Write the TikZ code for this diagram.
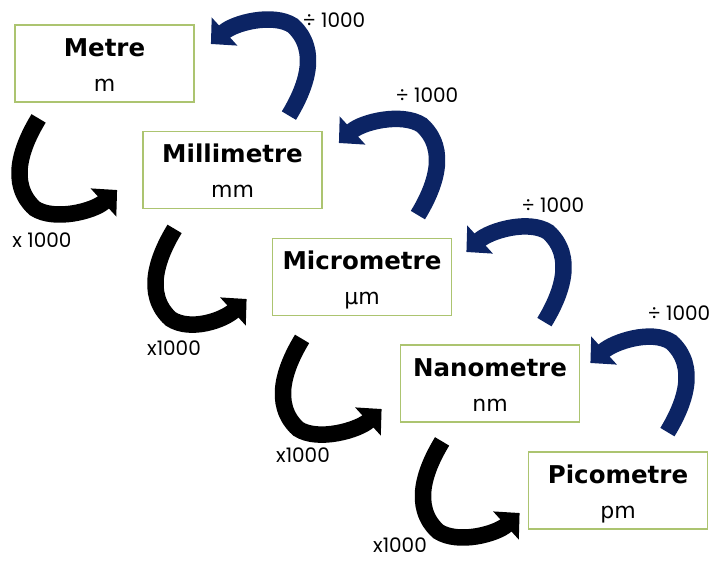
\documentclass[tikz,border=0pt]{standalone}
\usepackage{fontspec}
\setmainfont{DejaVu Sans}
\newfontfamily\labelfont{Poppins}
\usetikzlibrary{arrows.meta,calc}
\definecolor{boxgreen}{RGB}{172,196,112}
\definecolor{navy}{RGB}{12,36,100}

\begin{document}
\begin{tikzpicture}[x=1pt,y=-1pt,
  unitbox/.style={draw=boxgreen,line width=1.8pt,fill=white,
    minimum width=179pt,minimum height=77pt,inner sep=0pt},
  unitname/.style={anchor=base,inner sep=0pt,
    font=\bfseries\fontsize{24.5}{28}\selectfont},
  unitsym/.style={anchor=base,inner sep=0pt,
    font=\fontsize{22}{26}\selectfont},
  steplabel/.style={inner sep=0pt,font=\labelfont\fontsize{20}{22}\selectfont},
  bandarrow/.style={line width=16.5pt,line cap=butt,
    -{Triangle[width=37pt,length=18.5pt]}},
  downarrow/.style={bandarrow,draw=black},
  uparrow/.style={bandarrow,draw=navy},
]
\useasboundingbox (0,0) rectangle (711,560);

% unit boxes
\node[unitbox] (metre) at (104.5,63.5) {};
\node[unitbox] (mm)    at (232.5,170)  {};
\node[unitbox] (micro) at (362,277)    {};
\node[unitbox] (nano)  at (490,383.5)  {};
\node[unitbox] (pico)  at (618,490.5)  {};

% names and symbols
\node[unitname] (metreN) at ($(metre.north)+(0,32)$) {Metre};
\node[unitsym]  (metreS) at ($(metre.north)+(0,67)$) {m};
\node[unitname] (mmN)    at ($(mm.north)+(0,32)$)    {Millimetre};
\node[unitsym]  (mmS)    at ($(mm.north)+(0,67)$)    {mm};
\node[unitname] (microN) at ($(micro.north)+(0,32)$) {Micrometre};
\node[unitsym]  (microS) at ($(micro.north)+(0,67)$) {µm};
\node[unitname] (nanoN)  at ($(nano.north)+(0,32)$)  {Nanometre};
\node[unitsym]  (nanoS)  at ($(nano.north)+(0,67)$)  {nm};
\node[unitname] (picoN)  at ($(pico.north)+(0,32)$)  {Picometre};
\node[unitsym]  (picoS)  at ($(pico.north)+(0,67)$)  {pm};

% multiply: curved black arrows down the left side
\draw[downarrow] ($(metre.south west)+(24.5,15.5)$)
  .. controls +(-17,28) and +(-27,-25) .. ++(-4,90)
  .. controls +(20,13) and +(-23,21) .. ($(mm.west)+(-25,20)$);
\draw[downarrow] ($(mm.south west)+(32.5,19.5)$)
  .. controls +(-17,28) and +(-27,-25) .. ++(-4,90)
  .. controls +(20,13) and +(-23,21) .. ($(micro.west)+(-25,22)$);
\draw[downarrow] ($(micro.south west)+(30.5,22.5)$)
  .. controls +(-17,28) and +(-27,-25) .. ++(-4,90)
  .. controls +(20,13) and +(-23,21) .. ($(nano.west)+(-18,25.5)$);
\draw[downarrow] ($(nano.south west)+(42.5,18.5)$)
  .. controls +(-17,28) and +(-27,-25) .. ++(-4,90)
  .. controls +(20,13) and +(-23,21) .. ($(pico.west)+(-8,22.5)$);

% divide: curved navy arrows up the right side
\draw[uparrow] ($(mm.north east)+(-34,-15)$)
  .. controls +(17,-28) and +(27,25) .. ++(4,-90)
  .. controls +(-20,-13) and +(23,-21) .. ($(metre.east)+(16,-19.5)$);
\draw[uparrow] ($(micro.north east)+(-34.5,-22.5)$)
  .. controls +(17,-28) and +(27,25) .. ++(4,-90)
  .. controls +(-20,-13) and +(23,-21) .. ($(mm.east)+(16,-27)$);
\draw[uparrow] ($(nano.north east)+(-36,-22)$)
  .. controls +(17,-28) and +(27,25) .. ++(4,-90)
  .. controls +(-20,-13) and +(23,-21) .. ($(micro.east)+(14,-25)$);
\draw[uparrow] ($(pico.north east)+(-41,-19)$)
  .. controls +(17,-28) and +(27,25) .. ++(4,-90)
  .. controls +(-20,-13) and +(23,-21) .. ($(nano.east)+(10,-20.5)$);

% step labels
\node[steplabel] (div1) at (334,20)  {÷ 1000};
\node[steplabel] (div2) at (427,95)  {÷ 1000};
\node[steplabel] (div3) at (553,205) {÷ 1000};
\node[steplabel] (div4) at (679,313) {÷ 1000};
\node[steplabel] (mul1) at (42,240)  {x 1000};
\node[steplabel] (mul2) at (174,348) {x1000};
\node[steplabel] (mul3) at (303,455) {x1000};
\node[steplabel] (mul4) at (400,545) {x1000};
\end{tikzpicture}
\end{document}
